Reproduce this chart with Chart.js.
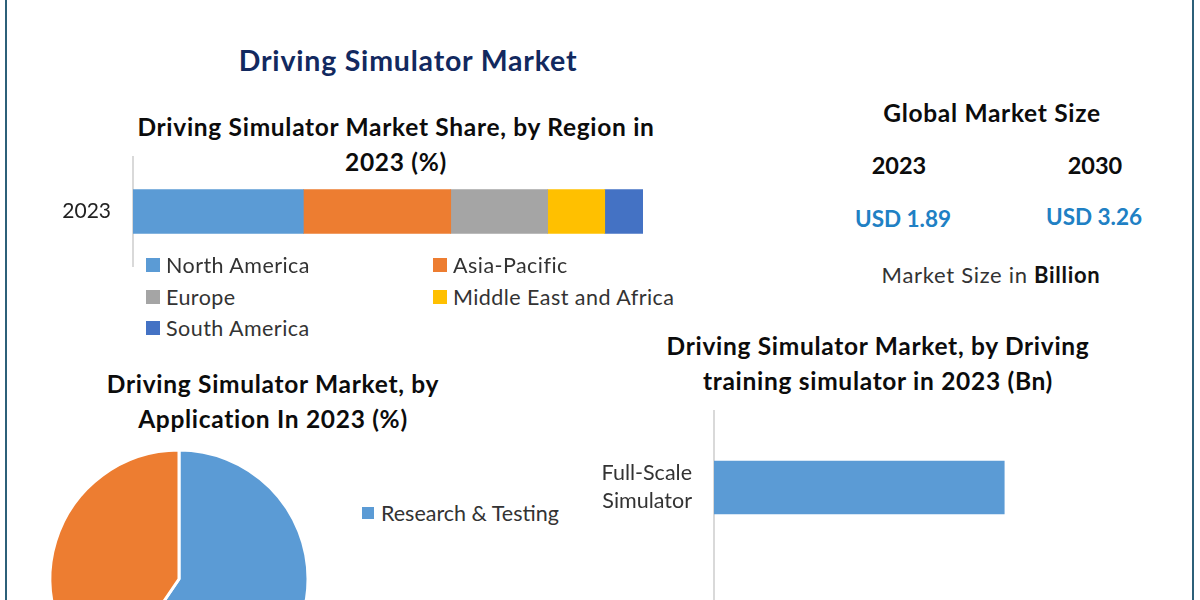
<!DOCTYPE html>
<html>
<head>
<meta charset="utf-8">
<title>Driving Simulator Market</title>
<script src="https://cdn.jsdelivr.net/npm/chart.js@4"></script>
<style>
	html, body { margin: 0; padding: 0; background: #fff; width: 1200px; height: 600px; overflow: hidden; }
	body { position: relative; font-family: Lato, "Open Sans", sans-serif; color: #111; }
	.frame { position: absolute; left: 5px; top: -4px; width: 1189px; height: 620px; border-left: 2px solid #2c6079; border-right: 2px solid #2c6079; box-sizing: border-box; }
	canvas { position: absolute; }
	.txt { position: absolute; transform: translate(-50%, -50%); white-space: nowrap; text-align: center; }
	.head { font-weight: 700; font-size: 24.5px; line-height: 35px; letter-spacing: 0.7px; color: #0c0c0c; }
	.year { font-weight: 700; font-size: 23.5px; color: #0c0c0c; }
	.usd { font-weight: 700; font-size: 22.5px; color: #2080c4; }
	.legend-item { position: absolute; transform: translateY(-50%); white-space: nowrap; font-size: 21.5px; letter-spacing: 0.45px; color: #333; padding-left: 20px; }
	.legend-item i { position: absolute; left: 0; top: 50%; width: 14px; height: 14px; margin-top: -7px; }
	#application-legend .legend-item { letter-spacing: 0; padding-left: 19px; }
	#application-legend .legend-item i { width: 12px; height: 12px; margin-top: -6px; }
</style>
</head>
<body>
<div class="frame"></div>

<div class="txt" id="main-title" style="left:408px;top:60px;font-weight:700;font-size:28.5px;letter-spacing:0.8px;color:#12295f">Driving Simulator Market</div>
<div class="txt head" style="left:396px;top:144px">Driving Simulator Market Share, by Region in<br>2023 (%)</div>
<div class="txt head" style="left:273px;top:401px">Driving Simulator Market, by<br>Application In 2023 (%)</div>
<div class="txt head" style="left:878px;top:363px">Driving Simulator Market, by Driving<br>training simulator in 2023 (Bn)</div>

<div class="txt head" style="left:992px;top:112px">Global Market Size</div>
<div class="txt year" style="left:899px;top:165px" id="year-a"></div>
<div class="txt year" style="left:1095px;top:165px" id="year-b"></div>
<div class="txt usd" style="left:903px;top:218px" id="size-a"></div>
<div class="txt usd" style="left:1094px;top:216px" id="size-b"></div>
<div class="txt" style="left:991px;top:274px;font-size:22px;letter-spacing:0.7px;color:#333">Market Size in <b style="color:#111">Billion</b></div>

<canvas id="region-chart" width="700" height="111" style="left:0;top:156px"></canvas>
<canvas id="application-chart" width="358" height="278" style="left:0;top:440px"></canvas>
<canvas id="training-chart" width="600" height="310" style="left:600px;top:410px"></canvas>

<div id="region-legend"></div>
<div id="application-legend"></div>

<script>
const marketYears = ["2023", "2030"];
const marketSizes = ["USD 1.89", "USD 3.26"];

const regionLabels = ["North America", "Asia-Pacific", "Europe", "Middle East and Africa", "South America"];
const regionValues = [33.4, 28.9, 19.0, 11.2, 7.5];
const regionColors = ["#5b9bd5", "#ed7d31", "#a5a5a5", "#ffc000", "#4472c4"];

const applicationLabels = ["Research & Testing", ""];
const applicationValues = [59.5, 40.5];
const applicationColors = ["#5b9bd5", "#ed7d31"];

const trainingLabels = [["Full-Scale", "Simulator"], ""];
const trainingValues = [1.08, null];

document.getElementById("year-a").textContent = marketYears[0];
document.getElementById("year-b").textContent = marketYears[1];
document.getElementById("size-a").textContent = marketSizes[0];
document.getElementById("size-b").textContent = marketSizes[1];

const axisColor = "#d9d9d9";
const noAnim = { animation: false, responsive: false, plugins: { legend: { display: false }, tooltip: { enabled: false } } };

// keeps the plot area from being squeezed by the tick label height
function fixAxis(width) {
	return (scale) => {
		scale.width = width;
		scale.paddingTop = 0;
		scale.paddingBottom = 0;
	};
}

// region share, one stacked bar
new Chart(document.getElementById("region-chart"), {
	type: "bar",
	data: {
		labels: [marketYears[0]],
		datasets: regionLabels.map((label, i) => ({
			label: label,
			data: [regionValues[i]],
			backgroundColor: regionColors[i],
			barThickness: 44,
		})),
	},
	options: {
		...noAnim,
		indexAxis: "y",
		layout: { padding: { right: 57 } },
		scales: {
			x: { display: false, stacked: true, min: 0, max: 100 },
			y: {
				stacked: true,
				grid: { display: false },
				border: { color: axisColor, width: 2 },
				ticks: { font: { family: "Lato", size: 21 }, color: "#222", padding: 14 },
				afterFit: fixAxis(133),
			},
		},
	},
});

// application pie, runs off the bottom of the page
new Chart(document.getElementById("application-chart"), {
	type: "pie",
	data: {
		labels: applicationLabels,
		datasets: [{
			data: applicationValues,
			backgroundColor: applicationColors,
			borderColor: "#fff",
			borderWidth: 3,
			radius: 129,
		}],
	},
	options: noAnim,
});

// training simulator bars, second one is below the page
new Chart(document.getElementById("training-chart"), {
	type: "bar",
	data: {
		labels: trainingLabels,
		datasets: [{
			data: trainingValues,
			backgroundColor: "#5b9bd5",
			barThickness: 53,
		}],
	},
	options: {
		...noAnim,
		indexAxis: "y",
		layout: { padding: { right: 56 } },
		scales: {
			x: { display: false, min: 0, max: 1.6 },
			y: {
				grid: { display: false },
				border: { color: axisColor, width: 2 },
				ticks: { font: { family: "Lato", size: 21.5, lineHeight: 1.3 }, color: "#333", padding: 14 },
				afterFit: fixAxis(114),
			},
		},
	},
});

// html legends, the columns in the picture don't fit the built in legend
function addLegend(holder, label, color, x, y) {
	const item = document.createElement("div");
	item.className = "legend-item";
	item.style.left = x + "px";
	item.style.top = y + "px";
	const box = document.createElement("i");
	box.style.background = color;
	item.appendChild(box);
	item.appendChild(document.createTextNode(label));
	holder.appendChild(item);
}

const regionLegend = document.getElementById("region-legend");
regionLabels.forEach((label, i) => {
	addLegend(regionLegend, label, regionColors[i], i % 2 ? 433 : 146, 265 + 31.5 * Math.floor(i / 2));
});
addLegend(document.getElementById("application-legend"), applicationLabels[0], applicationColors[0], 362, 513);
</script>
</body>
</html>
